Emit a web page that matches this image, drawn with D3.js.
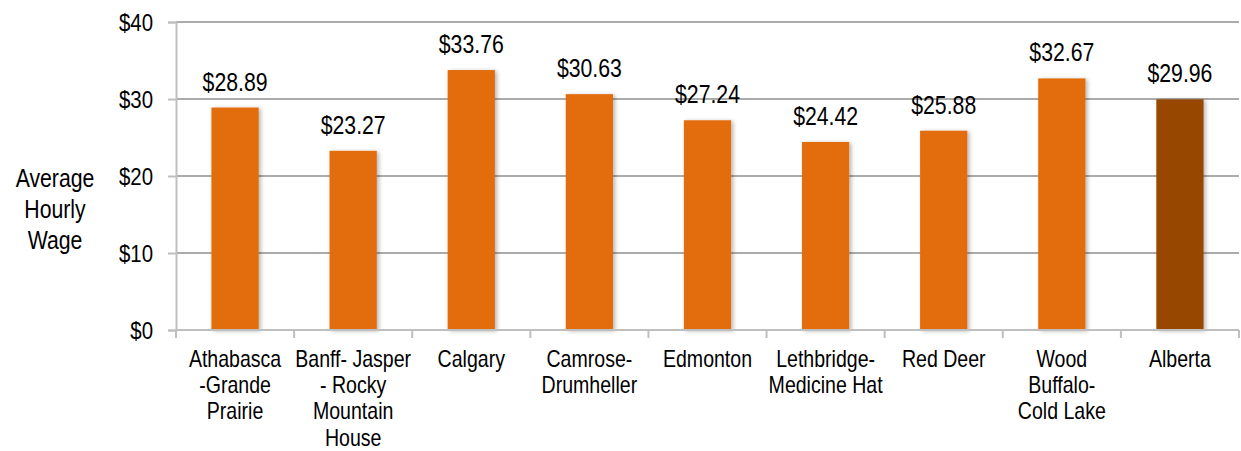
<!DOCTYPE html>
<html>
<head>
<meta charset="utf-8">
<script src="https://cdn.jsdelivr.net/npm/d3@7"></script>
<style>
  html, body { margin: 0; padding: 0; background: #fff; }
  svg { display: block; font-family: "Liberation Sans", Arial, sans-serif; }
</style>
</head>
<body>
<svg id="chart" width="1241" height="451"></svg>
<script>
// Average hourly wage by economic region, Alberta
const regions = [
  ["Athabasca", "-Grande", "Prairie"],
  ["Banff- Jasper", "- Rocky", "Mountain", "House"],
  ["Calgary"],
  ["Camrose-", "Drumheller"],
  ["Edmonton"],
  ["Lethbridge-", "Medicine Hat"],
  ["Red Deer"],
  ["Wood", "Buffalo-", "Cold Lake"],
  ["Alberta"]
];
const wages = [28.89, 23.27, 33.76, 30.63, 27.24, 24.42, 25.88, 32.67, 29.96];
const yTicks = [0, 10, 20, 30, 40];
const yTitle = ["Average", "Hourly", "Wage"];

const regionColor = "#E36C0A";
const provinceColor = "#974706";
const squeeze = 0.85;

const svg = d3.select("#chart");
const plotLeft = 176, plotRight = 1239, plotTop = 22, plotBottom = 330;

const keys = regions.map((r, i) => i);
const x = d3.scaleBand().domain(keys).range([plotLeft, plotRight])
  .paddingInner(0.6).paddingOuter(0.3);
const y = d3.scaleLinear().domain([0, 40]).range([plotBottom, plotTop]);

const defs = svg.append("defs");
const shadow = defs.append("filter").attr("id", "shadow")
  .attr("x", "-20%").attr("y", "-5%").attr("width", "150%").attr("height", "115%");
shadow.append("feGaussianBlur").attr("in", "SourceAlpha").attr("stdDeviation", 2);
shadow.append("feOffset").attr("dx", 2).attr("dy", 1).attr("result", "blur");
shadow.append("feComponentTransfer").append("feFuncA").attr("type", "linear").attr("slope", 0.3);
const merge = shadow.append("feMerge");
merge.append("feMergeNode");
merge.append("feMergeNode").attr("in", "SourceGraphic");

// Horizontal gridlines
svg.append("g").selectAll("line")
  .data(yTicks.filter(d => d > 0))
  .join("line")
  .attr("x1", plotLeft).attr("x2", plotRight)
  .attr("y1", d => y(d)).attr("y2", d => y(d))
  .attr("stroke", "#8f8f8f").attr("stroke-width", 1.5);

// Y axis
const yAxis = svg.append("g").attr("transform", `translate(${plotLeft},0)`)
  .call(d3.axisLeft(y).tickValues(yTicks).tickSize(8).tickPadding(15).tickFormat(d => "$" + d));
yAxis.select(".domain").attr("stroke", "#bfbfbf").attr("stroke-width", 2);
yAxis.selectAll(".tick line").attr("stroke", "#bfbfbf").attr("stroke-width", 2);
yAxis.selectAll(".tick text").remove();
yAxis.selectAll(".tick").append("text")
  .attr("transform", `translate(-23,0) scale(${squeeze},1)`)
  .attr("text-anchor", "end").attr("dy", "0.35em")
  .attr("font-size", 24).attr("fill", "#000")
  .text(d => "$" + d);

// Bars
svg.append("g").selectAll("rect")
  .data(wages)
  .join("rect")
  .attr("x", (d, i) => x(i))
  .attr("width", x.bandwidth())
  .attr("y", d => y(d))
  .attr("height", d => y(0) - y(d))
  .attr("fill", (d, i) => i === wages.length - 1 ? provinceColor : regionColor)
  .attr("filter", "url(#shadow)");

// X axis baseline and tick marks at category boundaries
const step = x.step();
const xa = svg.append("g");
xa.append("line").attr("x1", plotLeft).attr("x2", plotRight)
  .attr("y1", plotBottom).attr("y2", plotBottom)
  .attr("stroke", "#bfbfbf").attr("stroke-width", 2);
xa.selectAll("line.tick")
  .data(d3.range(regions.length + 1))
  .join("line").attr("class", "tick")
  .attr("x1", i => plotLeft + i * step).attr("x2", i => plotLeft + i * step)
  .attr("y1", plotBottom).attr("y2", plotBottom + 8)
  .attr("stroke", "#bfbfbf").attr("stroke-width", 2);

// Category labels
const catG = svg.append("g").selectAll("g")
  .data(regions)
  .join("g")
  .attr("transform", (d, i) => `translate(${x(i) + x.bandwidth() / 2},366.5) scale(${squeeze},1)`);
catG.selectAll("text")
  .data(d => d)
  .join("text")
  .attr("y", (d, j) => j * 26.5)
  .attr("text-anchor", "middle")
  .attr("font-size", 23).attr("fill", "#000")
  .text(d => d);

// Value labels
svg.append("g").selectAll("text")
  .data(wages)
  .join("text")
  .attr("transform", (d, i) => `translate(${x(i) + x.bandwidth() / 2},${y(d) - 17}) scale(${squeeze},1)`)
  .attr("text-anchor", "middle")
  .attr("font-size", 25).attr("fill", "#000")
  .text(d => "$" + d.toFixed(2));

// Y axis title
svg.append("g")
  .attr("transform", `translate(55,187) scale(${squeeze},1)`)
  .selectAll("text")
  .data(yTitle)
  .join("text")
  .attr("y", (d, j) => j * 31)
  .attr("text-anchor", "middle")
  .attr("font-size", 25).attr("fill", "#000")
  .text(d => d);
</script>
</body>
</html>
